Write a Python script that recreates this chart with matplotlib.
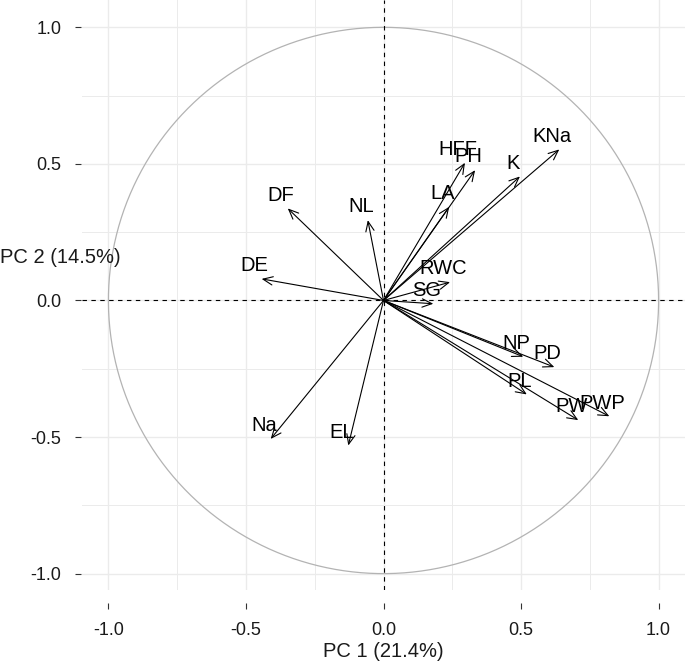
import numpy as np
import matplotlib
matplotlib.use('Agg')
import matplotlib.pyplot as plt
from matplotlib.ticker import MultipleLocator

plt.rcParams['font.family'] = ['Liberation Sans', 'DejaVu Sans']

# variable loadings on PC1 / PC2
names = ['KNa', 'K', 'HFF', 'PH', 'LA', 'RWC', 'SG', 'NP', 'PD', 'PL',
         'PW', 'PWP', 'DF', 'NL', 'DE', 'Na', 'EL']
pc1 = [0.639, 0.496, 0.296, 0.333, 0.239, 0.242, 0.181, 0.508, 0.621, 0.521,
       0.708, 0.821, -0.348, -0.057, -0.443, -0.410, -0.128]
pc2 = [0.553, 0.454, 0.504, 0.477, 0.343, 0.067, -0.012, -0.206, -0.244, -0.344,
       -0.438, -0.424, 0.337, 0.294, 0.079, -0.507, -0.531]

x_title = 'PC 1 (21.4%)'
y_title = 'PC 2 (14.5%)'

fig = plt.figure(figsize=(6.85, 6.63), dpi=100)
ax = fig.add_axes([82 / 685, 73 / 663, 603 / 685, 590 / 663])
ax.set_xlim(-1.096, 1.096)
ax.set_ylim(-1.06, 1.10)

# grid
ax.xaxis.set_major_locator(MultipleLocator(0.5))
ax.yaxis.set_major_locator(MultipleLocator(0.5))
ax.xaxis.set_minor_locator(MultipleLocator(0.25))
ax.yaxis.set_minor_locator(MultipleLocator(0.25))
ax.grid(which='major', color='#ebebeb', lw=1.0)
ax.grid(which='minor', color='#ebebeb', lw=0.7)
ax.set_axisbelow(True)
ax.tick_params(which='minor', length=0)
ax.tick_params(which='major', direction='out', length=4, width=0.8,
               color='#333333', labelsize=13, labelcolor='#1a1a1a')
ax.tick_params(axis='y', pad=10)
ax.tick_params(axis='x', pad=10)
for s in ax.spines.values():
    s.set_visible(False)
ax.spines['left'].set_position(('outward', 1))
ax.spines['bottom'].set_position(('outward', 9))
ax.xaxis.set_major_formatter(plt.FuncFormatter(lambda v, p: f'{v:.1f}'))
ax.yaxis.set_major_formatter(plt.FuncFormatter(lambda v, p: f'{v:.1f}'))

# unit circle
t = np.linspace(0, 2 * np.pi, 400)
ax.plot(np.cos(t), np.sin(t), color='#b3b3b3', lw=0.9)

# reference lines
ax.axhline(0, color='black', lw=0.8, ls=(0, (4, 4)))
ax.axvline(0, color='black', lw=0.8, ls=(0, (4, 4)))

# arrows + labels
for n, x, y in zip(names, pc1, pc2):
    ax.annotate('', xy=(x, y), xytext=(0, 0),
                arrowprops=dict(arrowstyle='->,head_length=0.7,head_width=0.3',
                                mutation_scale=10, lw=0.8, color='black',
                                shrinkA=0, shrinkB=0))
    ax.annotate(n, xy=(x, y), xytext=(-5, 9.5), textcoords='offset points',
                ha='center', va='center', fontsize=14.5, color='black')

ax.set_xlabel(x_title, fontsize=14.5, color='#1a1a1a', labelpad=2)
fig.text(0.0, (663 - 258) / 663, y_title, fontsize=14.5, color='#1a1a1a',
         ha='left', va='center')

fig.savefig('out.png', dpi=100)
